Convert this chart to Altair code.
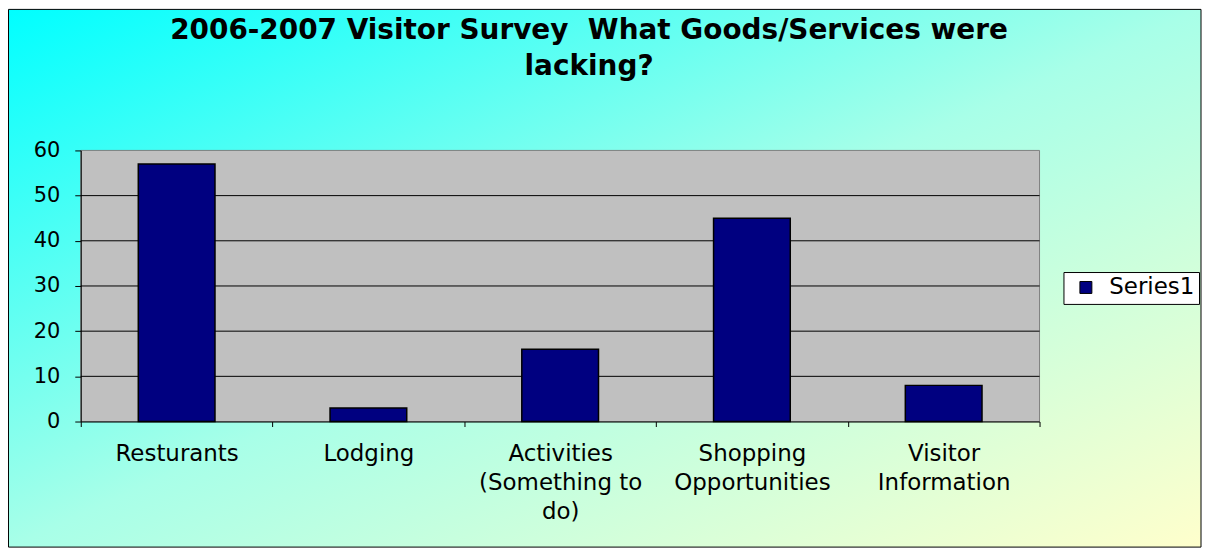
import json
import altair as alt
import pandas as pd

# ---- data ----
categories = ["Resturants", "Lodging", "Activities (Something to do)",
              "Shopping Opportunities", "Visitor Information"]
label_lines = [["Resturants"], ["Lodging"], ["Activities", "(Something to", "do)"],
               ["Shopping", "Opportunities"], ["Visitor", "Information"]]
values = [57, 3, 16, 45, 8]
series = ["Series1"] * len(categories)
y_ticks = [0, 10, 20, 30, 40, 50, 60]
grid_values = [10, 20, 30, 40, 50]
title_lines = ["2006-2007 Visitor Survey \u00a0What Goods/Services were", "lacking?"]

W, H = 962, 272
FONT = "DejaVu Sans"

df = pd.DataFrame({"category": categories, "value": values, "series": series})
grid_df = pd.DataFrame({"value": grid_values})

label_expr = ""
for cat, lines in zip(categories, label_lines):
    label_expr += f"datum.value == {json.dumps(cat)} ? {json.dumps(lines)} : "
label_expr += "datum.label"

y_scale = alt.Scale(domain=[0, 60], nice=False, zero=True)
y_axis = alt.Axis(title=None, values=y_ticks, tickSize=6,
                  tickColor="black", domainColor="black",
                  labelPadding=15, labelFont=FONT, labelFontSize=21,
                  labelColor="black", grid=False, zindex=1)

gradient = alt.LinearGradient(
    gradient="linear",
    stops=[alt.GradientStop(color="#00FFFF", offset=0),
           alt.GradientStop(color="#A8FFE8", offset=0.5),
           alt.GradientStop(color="#FFFFCC", offset=1)],
    x1=0, y1=0, x2=1, y2=1,
)

one_row = alt.Data(values=[{}])

background = alt.Chart(one_row).mark_rect(
    fill=gradient, stroke="black", strokeWidth=1
).encode(
    x=alt.value(-72.5), x2=alt.value(W + 162),
    y=alt.value(-141.5), y2=alt.value(H + 126),
)

plot_bg = alt.Chart(one_row).mark_rect(
    fill="#C0C0C0", stroke="#808080", strokeWidth=1
).encode(
    x=alt.value(0), x2=alt.value(W), y=alt.value(0), y2=alt.value(H)
)

grid = alt.Chart(grid_df).mark_rule(color="black", strokeWidth=1).encode(
    y=alt.Y("value:Q", scale=y_scale, axis=y_axis),
    x=alt.value(0), x2=alt.value(W),
)

bars = alt.Chart(df).mark_bar(
    width=alt.RelativeBandSize(0.4), stroke="black", strokeWidth=1.5
).encode(
    x=alt.X("category:N", sort=categories,
            scale=alt.Scale(paddingInner=0, paddingOuter=0),
            axis=alt.Axis(title=None, labelAngle=0, tickBand="extent",
                          tickSize=5, tickColor="black", domainColor="black",
                          labelPadding=16, labelFont=FONT, labelFontSize=23,
                          labelColor="black", labelLineHeight=29,
                          labelExpr=label_expr, labelLimit=0, grid=False,
                          labelBaseline="top", zindex=1)),
    y=alt.Y("value:Q", scale=y_scale, axis=y_axis),
    color=alt.Color("series:N",
                    scale=alt.Scale(domain=["Series1"], range=["#000080"]),
                    legend=alt.Legend(orient="none", legendX=986, legendY=122,
                                      title=None, fillColor="white",
                                      strokeColor="black", padding=4,
                                      symbolType="square", symbolSize=144,
                                      symbolStrokeColor="black",
                                      symbolStrokeWidth=1, symbolOffset=7,
                                      labelOffset=12, labelFont=FONT,
                                      labelFontSize=23, labelColor="black")),
)

title = alt.Chart(one_row).mark_text(
    text=title_lines, font=FONT, fontSize=28, fontWeight="bold",
    lineHeight=36, align="center", baseline="alphabetic", color="black"
).encode(x=alt.value(510), y=alt.value(38 - 150))

chart = alt.layer(background, plot_bg, grid, bars, title).properties(
    width=W, height=H, padding=0
).configure_view(stroke=None).configure(font=FONT)

chart.save("out.html", embed_options={"renderer": "svg", "actions": False})
